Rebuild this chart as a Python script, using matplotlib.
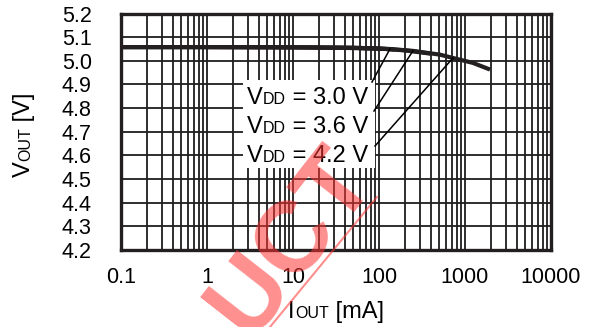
import numpy as np
import matplotlib
matplotlib.use("Agg")
import matplotlib.pyplot as plt
from matplotlib.transforms import IdentityTransform
from matplotlib.patches import Rectangle
from matplotlib.lines import Line2D

plt.rcParams['font.family'] = ['Liberation Sans', 'DejaVu Sans']

# ---- data ----
iout_30 = [0.1, 1, 10, 50, 100, 150]
vout_30 = [5.058, 5.058, 5.057, 5.055, 5.052, 5.048]
iout_36 = [0.1, 1, 10, 50, 100, 200, 300, 400]
vout_36 = [5.058, 5.058, 5.057, 5.055, 5.052, 5.044, 5.036, 5.030]
iout_42 = [0.1, 1, 10, 35, 134, 248, 511, 725, 1239, 1953]
vout_42 = [5.058, 5.058, 5.057, 5.055, 5.050, 5.042, 5.026, 5.012, 4.991, 4.963]
labels = ["3.0 V", "3.6 V", "4.2 V"]
label_targets = [134, 248, 725]   # mA where leader lines touch the curve
xticks = [0.1, 1, 10, 100, 1000, 10000]
xticklabels = ["0.1", "1", "10", "100", "1000", "10000"]
yticks = [4.2, 4.3, 4.4, 4.5, 4.6, 4.7, 4.8, 4.9, 5.0, 5.1, 5.2]
yticklabels = ["%.1f" % v for v in yticks]

W, H = 591, 327
fig = plt.figure(figsize=(W / 100, H / 100), dpi=100)
L, R, T, B = 121, 551, 13.5, 250
ax = fig.add_axes([L / W, 1 - B / H, (R - L) / W, (B - T) / H])
ax.set_xscale('log')
ax.set_xlim(0.1, 10000)
ax.set_ylim(4.2, 5.2)
ax.set_xticks(xticks)
ax.set_xticklabels(xticklabels, fontsize=15.5)
ax.set_yticks(yticks)
ax.set_yticklabels(yticklabels, fontsize=15.5)
ax.xaxis.set_minor_locator(matplotlib.ticker.LogLocator(base=10, subs=np.arange(2, 10)))
ax.xaxis.set_minor_formatter(matplotlib.ticker.NullFormatter())
ax.tick_params(which='both', length=0)
ax.tick_params(axis='y', pad=21)
ax.tick_params(axis='x', pad=12)
gc = '#1e1e1e'
ax.grid(True, which='major', color=gc, lw=1.3)
ax.grid(True, which='minor', axis='x', color=gc, lw=1.3)
ax.set_axisbelow(True)
for s in ax.spines.values():
    s.set_linewidth(2.4)
    s.set_color('#231f20')

for xs, ys in [(iout_30, vout_30), (iout_36, vout_36), (iout_42, vout_42)]:
    ax.plot(xs, ys, color='#231f20', lw=3.0, solid_capstyle='butt', zorder=4)

fig.canvas.draw()
renderer = fig.canvas.get_renderer()
ID = IdentityTransform()


def seg_width(segments):
    total = 0.0
    for txt, size in segments:
        t = fig.text(0, 0, txt, fontsize=size)
        total += t.get_window_extent(renderer).width
        t.remove()
    return total


def sc_text(segments, x0, y0, rotation=0, zorder=6):
    """Draw text made of segments (text, size) starting at pixel (x0,y0) baseline."""
    pos = 0.0
    for txt, size in segments:
        w = seg_width([(txt, size)])
        if rotation == 0:
            x, y = x0 + pos, y0
        else:
            x, y = x0, y0 + pos
        fig.text(x, y, txt, fontsize=size, transform=ID, rotation=rotation,
                 rotation_mode='anchor', ha='left', va='baseline', zorder=zorder)
        pos += w
    return pos


big = 17
small = 11.5

# white box behind labels (pixel coordinates)
rect = Rectangle((243, H - 168), 132, 88, transform=ID, facecolor='white',
                 edgecolor='none', zorder=3)
fig.patches.append(rect)

baselines = [104, 133, 162]
starts = [(372, 82), (374, 111), (375, 146)]
for lab, bl, st, tgt in zip(labels, baselines, starts, label_targets):
    sc_text([("V", big), ("DD", small), (" = " + lab, big)], 247, H - bl)
    vy = np.interp(np.log10(tgt), np.log10(iout_42), vout_42)
    px, py = ax.transData.transform((tgt, vy))
    fig.add_artist(Line2D([st[0], px], [H - st[1], py], transform=ID,
                          color='black', lw=1.1, zorder=5))

# axis labels with small caps
xl = [("I", 17), ("OUT", 11.5), (" [mA]", 17)]
sc_text(xl, (L + R) / 2 - seg_width(xl) / 2, H - 318)
yl = [("V", 17), ("OUT", 11.5), (" [V]", 17)]
sc_text(yl, 30, H - 177, rotation=90)

# watermark
fig.text(292, H - 242, "UCT", transform=ID, fontsize=72, fontweight='bold',
         color='#ff3333', alpha=0.55, rotation=52, rotation_mode='anchor',
         ha='center', va='center', zorder=10)
fig.add_artist(Line2D([270, 377], [H - 327, H - 197], transform=ID,
                      color='#ff3333', alpha=0.55, lw=1.5, zorder=10))

fig.savefig('out.png', dpi=100)
